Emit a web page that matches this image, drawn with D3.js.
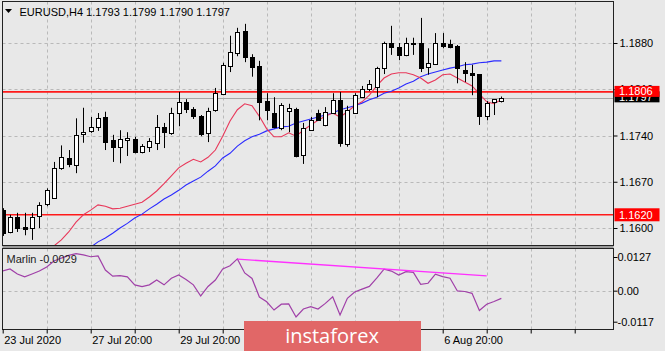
<!DOCTYPE html>
<html><head><meta charset="utf-8">
<script src="https://cdn.jsdelivr.net/npm/d3@7"></script>
<style>
html,body{margin:0;padding:0;background:#e8e8e8;}
svg{display:block;font-family:"Liberation Sans",Arial,sans-serif;}
</style></head><body>
<script>
// ---------- DATA ----------
const symbolTitle = "EURUSD,H4  1.1793 1.1799 1.1790 1.1797";
const opens  = [1.1627,1.1595,1.1617,1.1601,1.1601,1.1618,1.1636,1.1645,1.1691,1.1706,1.1695,1.1742,1.1747,1.1753,1.1768,1.1733,1.1723,1.1733,1.1735,1.1715,1.1723,1.1729,1.1753,1.1744,1.1774,1.1791,1.1780,1.1769,1.1744,1.1779,1.1803,1.1845,1.1865,1.1898,1.1859,1.1845,1.1792,1.1774,1.1751,1.1777,1.1780,1.1710,1.1748,1.1774,1.1756,1.1774,1.1794,1.1727,1.1774,1.1798,1.1810,1.1813,1.1842,1.1880,1.1874,1.1862,1.1879,1.1880,1.1844,1.1848,1.1880,1.1878,1.1875,1.1839,1.1835,1.1833,1.1769,1.1791,1.1793];
const highs  = [1.1630,1.1620,1.1623,1.1623,1.1623,1.1639,1.1660,1.1700,1.1725,1.1718,1.1766,1.1782,1.1768,1.1774,1.1776,1.1741,1.1748,1.1745,1.1738,1.1727,1.1736,1.1771,1.1759,1.1782,1.1806,1.1795,1.1783,1.1771,1.1782,1.1812,1.1850,1.1891,1.1903,1.1909,1.1863,1.1853,1.1804,1.1798,1.1789,1.1788,1.1782,1.1759,1.1768,1.1779,1.1783,1.1804,1.1806,1.1785,1.1804,1.1815,1.1824,1.1844,1.1882,1.1906,1.1880,1.1888,1.1888,1.1918,1.1872,1.1895,1.1895,1.1885,1.1877,1.1851,1.1847,1.1833,1.1792,1.1795,1.1799];
const lows   = [1.1588,1.1592,1.1594,1.1589,1.1582,1.1600,1.1633,1.1644,1.1688,1.1692,1.1683,1.1729,1.1744,1.1747,1.1718,1.1700,1.1698,1.1709,1.1713,1.1713,1.1715,1.1718,1.1721,1.1741,1.1754,1.1774,1.1765,1.1739,1.1730,1.1776,1.1801,1.1836,1.1860,1.1851,1.1829,1.1763,1.1763,1.1751,1.1748,1.1745,1.1707,1.1697,1.1747,1.1762,1.1754,1.1774,1.1723,1.1723,1.1774,1.1797,1.1807,1.1798,1.1833,1.1862,1.1854,1.1860,1.1862,1.1836,1.1832,1.1847,1.1872,1.1872,1.1819,1.1821,1.1801,1.1756,1.1763,1.1771,1.1790];
const closes = [1.1592,1.1617,1.1600,1.1598,1.1617,1.1635,1.1657,1.1691,1.1707,1.1697,1.1741,1.1745,1.1753,1.1766,1.1730,1.1723,1.1735,1.1736,1.1715,1.1724,1.1732,1.1753,1.1745,1.1774,1.1791,1.1780,1.1769,1.1742,1.1777,1.1804,1.1847,1.1866,1.1897,1.1859,1.1844,1.1791,1.1779,1.1753,1.1786,1.1782,1.1709,1.1751,1.1763,1.1763,1.1776,1.1794,1.1729,1.1779,1.1801,1.1810,1.1818,1.1842,1.1880,1.1874,1.1862,1.1880,1.1880,1.1842,1.1850,1.1880,1.1875,1.1874,1.1842,1.1835,1.1832,1.1769,1.1789,1.1795,1.1797];
const fastMA = [null,null,null,null,null,null,1.1562,1.1573,1.1582,1.1594,1.1609,1.1620,1.1627,1.1635,1.1633,1.1629,1.1630,1.1633,1.1636,1.1639,1.1647,1.1656,1.1667,1.1679,1.1691,1.1698,1.1704,1.1700,1.1707,1.1718,1.1739,1.1762,1.1779,1.1788,1.1785,1.1769,1.1750,1.1738,1.1738,1.1744,1.1739,1.1748,1.1756,1.1763,1.1769,1.1774,1.1768,1.1776,1.1785,1.1791,1.1801,1.1815,1.1827,1.1833,1.1835,1.1835,1.1832,1.1827,1.1819,1.1824,1.1832,1.1833,1.1827,1.1821,1.1815,1.1803,1.1791,1.1788,1.1794];
const slowMA = [null,null,null,null,null,null,null,null,null,null,null,1.1564,1.1571,1.1579,1.1585,1.1592,1.1600,1.1607,1.1615,1.1621,1.1629,1.1636,1.1644,1.1650,1.1657,1.1665,1.1671,1.1677,1.1686,1.1694,1.1706,1.1713,1.1724,1.1732,1.1738,1.1742,1.1747,1.1750,1.1753,1.1754,1.1759,1.1762,1.1765,1.1768,1.1771,1.1774,1.1779,1.1782,1.1785,1.1789,1.1794,1.1798,1.1804,1.1807,1.1812,1.1818,1.1822,1.1829,1.1833,1.1836,1.1839,1.1842,1.1844,1.1847,1.1848,1.1850,1.1851,1.1853,1.1853];
const marlin = [0.0074,0.0082,0.0063,0.0052,0.0063,0.0074,0.0089,0.0112,0.0123,0.0133,0.0140,0.0135,0.0128,0.0131,0.0078,0.0055,0.0057,0.0052,0.0022,0.0015,0.0022,0.0040,0.0022,0.0047,0.0059,0.0042,0.0022,-0.0020,0.0016,0.0040,0.0082,0.0094,0.0120,0.0067,0.0046,-0.0024,-0.0042,-0.0073,-0.0051,-0.0050,-0.0099,-0.0069,-0.0060,-0.0069,-0.0048,-0.0023,-0.0092,-0.0029,-0.0005,0.0006,0.0016,0.0047,0.0081,0.0074,0.0059,0.0072,0.0069,0.0024,0.0028,0.0062,0.0053,0.0047,-0.0001,-0.0003,-0.0010,-0.0075,-0.0051,-0.0041,-0.0029];
const marlinLabel = "Marlin -0.0029";
const trendBars = [32, 66];
const trendValues = [0.0119, 0.0056];
const priceTicks = [1.1880, 1.1810, 1.1740, 1.1670, 1.1600];
const marlinTicks = [0.0127, 0, -0.0117];
const marlinTickLabels = ["0.0127", "0.00", "-0.0117"];
const timeTickBars = [0,6,12,18,24,30,36,42,48,54,60,66,72,78];
const timeLabelBars = [0,12,24,60];
const timeLabelTexts = ["23 Jul 2020","27 Jul 20:00","29 Jul 20:00","6 Aug 20:00"];
const levelLines = [1.1806, 1.1620];
const bidPrice = 1.1797;

// ---------- LAYOUT ----------
const W = 665, H = 351;
const L = 2.5, R = 613.5, mainT = 1.5, mainB = 245.5, indT = 248.5, indB = 329.5;

const svg = d3.select("body").append("svg").attr("width", W).attr("height", H);
svg.append("rect").attr("width", W).attr("height", H).attr("fill", "#e8e8e8");

const x = d3.scaleLinear().domain([0, 60]).range([2.7, 442.7]);
const y = d3.scaleLinear().domain([1.1600, 1.1880]).range([228, 43]);
const yi = d3.scaleLinear().domain([-0.0117, 0.0127]).range([321.7, 257]);

const defs = svg.append("defs");
defs.append("clipPath").attr("id", "cMain").append("rect")
  .attr("x", L + 0.5).attr("y", mainT + 0.5).attr("width", R - L - 1).attr("height", mainB - mainT - 1);
defs.append("clipPath").attr("id", "cInd").append("rect")
  .attr("x", L + 0.5).attr("y", indT + 0.5).attr("width", R - L - 1).attr("height", indB - indT - 1);

const main = svg.append("g").attr("clip-path", "url(#cMain)");
const ind = svg.append("g").attr("clip-path", "url(#cInd)");

const gridCol = "#b9b9b9";
main.selectAll(".hg").data(priceTicks).join("line")
  .attr("x1", L).attr("x2", R).attr("y1", d => Math.round(y(d)) + 0.5).attr("y2", d => Math.round(y(d)) + 0.5)
  .attr("stroke", gridCol).attr("stroke-dasharray", "3,3");
main.selectAll(".vg").data(timeTickBars.slice(1)).join("line")
  .attr("x1", d => Math.round(x(d)) + 0.5).attr("x2", d => Math.round(x(d)) + 0.5)
  .attr("y1", mainT).attr("y2", mainB)
  .attr("stroke", gridCol).attr("stroke-dasharray", "3,3");
ind.selectAll(".vg").data(timeTickBars.slice(1)).join("line")
  .attr("x1", d => Math.round(x(d)) + 0.5).attr("x2", d => Math.round(x(d)) + 0.5)
  .attr("y1", indT).attr("y2", indB)
  .attr("stroke", gridCol).attr("stroke-dasharray", "3,3");
ind.append("line").attr("x1", L).attr("x2", R)
  .attr("y1", Math.round(yi(0)) + 0.5).attr("y2", Math.round(yi(0)) + 0.5)
  .attr("stroke", gridCol).attr("stroke-dasharray", "3,3");

main.selectAll(".lv").data(levelLines).join("line")
  .attr("x1", L).attr("x2", R).attr("y1", d => y(d)).attr("y2", d => y(d))
  .attr("stroke", "#ff1a1a").attr("stroke-width", 1.6);
main.append("line").attr("x1", L).attr("x2", R)
  .attr("y1", Math.round(y(bidPrice)) + 0.5).attr("y2", Math.round(y(bidPrice)) + 0.5)
  .attr("stroke", "#a8a8a8");

const maLine = arr => d3.line().defined(d => d != null).x((d, i) => x(i)).y(d => y(d))(arr);
main.append("path").attr("d", maLine(slowMA)).attr("fill", "none").attr("stroke", "#2b2bff").attr("stroke-width", 1.1);
main.append("path").attr("d", maLine(fastMA)).attr("fill", "none").attr("stroke", "#e8385a").attr("stroke-width", 1.1);

const bars = opens.map((o, i) => ({ i, o, h: highs[i], l: lows[i], c: closes[i] }));
const cg = main.append("g");
cg.selectAll(".wick").data(bars).join("line")
  .attr("x1", d => Math.round(x(d.i)) + 0.5).attr("x2", d => Math.round(x(d.i)) + 0.5)
  .attr("y1", d => y(d.h)).attr("y2", d => y(d.l))
  .attr("stroke", "#000").attr("stroke-width", 1);
cg.selectAll(".body").data(bars).join("rect")
  .attr("x", d => Math.round(x(d.i)) - 1.5)
  .attr("width", 4)
  .attr("y", d => Math.round(y(Math.max(d.o, d.c))) + 0.5)
  .attr("height", d => Math.max(1, Math.round(Math.abs(y(d.o) - y(d.c)))))
  .attr("fill", d => d.c >= d.o ? "#fff" : "#000")
  .attr("stroke", "#000").attr("stroke-width", 1);

ind.append("path")
  .attr("d", d3.line().x((d, i) => x(i)).y(d => yi(d))(marlin))
  .attr("fill", "none").attr("stroke", "#a040a8").attr("stroke-width", 1.2);
ind.append("line")
  .attr("x1", x(trendBars[0])).attr("y1", yi(trendValues[0]))
  .attr("x2", x(trendBars[1])).attr("y2", yi(trendValues[1]))
  .attr("stroke", "#ff30ff").attr("stroke-width", 1.3);

svg.append("rect").attr("x", L).attr("y", mainB).attr("width", R - L).attr("height", indT - mainB).attr("fill", "#9a9a9a");
svg.append("rect").attr("x", L).attr("y", mainT).attr("width", R - L).attr("height", mainB - mainT)
  .attr("fill", "none").attr("stroke", "#222");
svg.append("rect").attr("x", L).attr("y", indT).attr("width", R - L).attr("height", indB - indT)
  .attr("fill", "none").attr("stroke", "#222");

svg.append("path").attr("d", "M5,9 L12,9 L8.5,13 Z").attr("fill", "#000");
svg.append("text").attr("x", 19.5).attr("y", 16).attr("font-size", 11).attr("fill", "#000").text(symbolTitle);
svg.append("text").attr("x", 6.5).attr("y", 263).attr("font-size", 11).attr("fill", "#222").text(marlinLabel);

const styleAxis = g => {
  g.select(".domain").remove();
  g.selectAll(".tick line").attr("stroke", "#000");
  g.selectAll(".tick text").attr("font-size", 11).attr("fill", "#000").attr("font-family", "Liberation Sans, Arial, sans-serif");
};
svg.append("g").attr("transform", `translate(${R},0)`)
  .call(d3.axisRight(y).tickValues(priceTicks).tickSize(4).tickPadding(2).tickFormat(d3.format(".4f")))
  .call(styleAxis);
svg.append("g").attr("transform", `translate(${R},0)`)
  .call(d3.axisRight(yi).tickValues(marlinTicks).tickSize(4).tickPadding(0)
    .tickFormat((d, i) => marlinTickLabels[i]))
  .call(styleAxis);
svg.append("g").attr("transform", `translate(0,${indB})`)
  .call(d3.axisBottom(x).tickValues(timeTickBars).tickSize(4).tickPadding(3)
    .tickFormat(d => { const k = timeLabelBars.indexOf(d); return k >= 0 ? timeLabelTexts[k] : ""; }))
  .call(styleAxis)
  .call(g => g.selectAll(".tick text").attr("text-anchor", "start").attr("x", 1));

const priceBox = (v, fill, off, h) => {
  const g = svg.append("g");
  const cy = y(v) + off;
  g.append("rect").attr("x", R + 1).attr("y", cy - h / 2).attr("width", 45).attr("height", h).attr("fill", fill);
  g.append("text").attr("x", R + 5.5).attr("y", cy).attr("dy", "0.35em").attr("font-size", 11)
    .attr("fill", "#fff").text(d3.format(".4f")(v));
};
priceBox(bidPrice, "#000", -1, 11);
priceBox(levelLines[0], "#ff0000", -0.5, 11);
priceBox(levelLines[1], "#ff0000", 0, 13);

svg.append("rect").attr("x", 244).attr("y", 321).attr("width", 177).attr("height", 31).attr("fill", "#e16767");
svg.append("text").attr("x", 332).attr("y", 343).attr("text-anchor", "middle").attr("font-size", 20)
  .attr("font-family", "Open Sans, Liberation Sans, sans-serif").attr("fill", "#fff").text("instaforex");
</script>
</body></html>
